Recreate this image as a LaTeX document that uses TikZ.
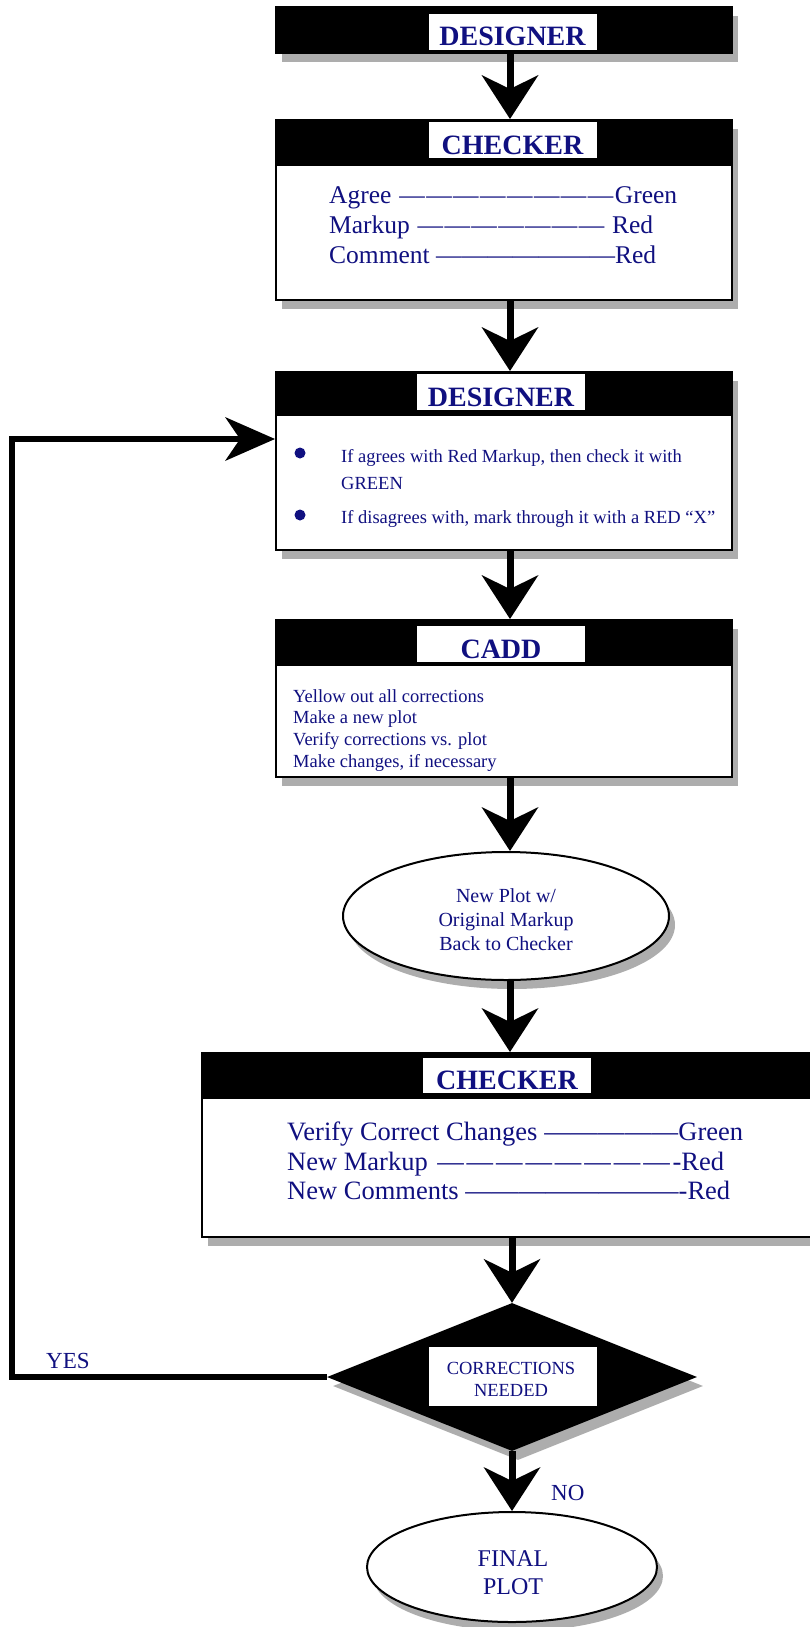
\documentclass[tikz,border=0pt]{standalone}
\usepackage{fontspec}
\setmainfont{Liberation Serif}
\usetikzlibrary{arrows.meta,shapes.geometric,shadows}
\definecolor{navy}{RGB}{16,16,128}
\newcommand\myfs[1]{\fontsize{#1}{#1}\selectfont}
\begin{document}
\begin{tikzpicture}[x=1pt,y=-1pt,
  shade/.style={drop shadow={shadow xshift=6pt, shadow yshift=-9pt, fill=black!32, opacity=1}},
  box/.style={rectangle, draw=black, line width=2pt, fill=white, inner sep=0pt, shade},
  lbl/.style={rectangle, fill=white, inner sep=0pt, minimum width=168pt, minimum height=36pt,
    text height=28pt, text depth=0pt, text=navy, font=\myfs{28}\bfseries},
  txt/.style={inner sep=0pt, text=navy},
  bigarrow/.style={line width=7pt, -{Stealth[length=44pt,width=57pt,inset=14pt,line width=0pt]}},
  loopline/.style={line width=5.5pt, -{Stealth[length=50pt,width=44pt,inset=15pt,line width=0pt]}},
]
\useasboundingbox (0,0) rectangle (810,1627);
\clip (0,0) rectangle (810,1627);
\coordinate (ax) at (510,0);

% Box 1: DESIGNER
\node[box, fill=black, minimum width=456pt, minimum height=46pt] (b1) at (504,30) {};
\node[lbl] (b1l) at (512.5,32) {DESIGNER};

% Box 2: CHECKER
\node[box, minimum width=456pt, minimum height=180pt] (b2) at (504,210) {};
\fill[black] (b2.north west) rectangle ([yshift=-47pt]b2.north east);
\node[lbl] (b2l) at (512.5,140) {CHECKER};
\node[txt, anchor=base west, font=\myfs{25.5}] (b2a) at (329,203) {\hbox to 348pt{Agree \xleaders\hbox{—}\hfill Green}};
\node[txt, anchor=base west, font=\myfs{25.5}] (b2b) at (329,233) {\hbox to 324pt{Markup \xleaders\hbox{—}\hfill\ Red}};
\node[txt, anchor=base west, font=\myfs{25.5}] (b2c) at (329,263) {\hbox to 327pt{Comment \xleaders\hbox{—}\hfill Red}};

% Box 3: DESIGNER
\node[box, minimum width=456pt, minimum height=178pt] (b3) at (504,461) {};
\fill[black] (b3.north west) rectangle ([yshift=-45pt]b3.north east);
\node[lbl] (b3l) at (501,392) {DESIGNER};
\node[circle, fill=navy, inner sep=0pt, minimum size=11pt] (bu1) at (300,453) {};
\node[circle, fill=navy, inner sep=0pt, minimum size=11pt] (bu2) at (300,515) {};
\node[txt, anchor=base west, font=\myfs{18.5}] (b3a) at (341,462) {If agrees with Red Markup, then check it with};
\node[txt, anchor=base west, font=\myfs{18.5}] (b3b) at (341,489) {GREEN};
\node[txt, anchor=base west, font=\myfs{18.5}] (b3c) at (341,523) {If disagrees with, mark through it with a RED “X”};

% Box 4: CADD
\node[box, minimum width=456pt, minimum height=157pt] (b4) at (504,698.5) {};
\fill[black] (b4.north west) rectangle ([yshift=-47pt]b4.north east);
\node[lbl] (b4l) at (501,644) {CADD};
\node[txt, anchor=base west, font=\myfs{18.5}] (b4a) at (293,702) {Yellow out all corrections};
\node[txt, anchor=base west, font=\myfs{18.5}] (b4b) at (293,723) {Make a new plot};
\node[txt, anchor=base west, font=\myfs{18.5}] (b4c) at (293,745) {Verify corrections vs. plot};
\node[txt, anchor=base west, font=\myfs{18.5}] (b4d) at (293,767) {Make changes, if necessary};

% Ellipse: new plot
\node[ellipse, draw=black, line width=2pt, fill=white, inner sep=0pt, minimum width=326pt, minimum height=128pt, shade] (e1) at (506,916) {};
\node[txt, anchor=base, font=\myfs{20}] (e1a) at (506,902) {New Plot w/};
\node[txt, anchor=base, font=\myfs{20}] (e1b) at (506,926) {Original Markup};
\node[txt, anchor=base, font=\myfs{20}] (e1c) at (506,950) {Back to Checker};

% Box 5: CHECKER
\node[box, minimum width=628pt, minimum height=184pt] (b5) at (516,1145) {};
\fill[black] (b5.north west) rectangle ([yshift=-47pt]b5.north east);
\node[lbl, minimum height=35pt] (b5l) at (507,1075.5) {CHECKER};
\node[txt, anchor=base west, font=\myfs{26.5}] (b5a) at (287,1140) {\hbox to 456pt{Verify Correct Changes \xleaders\hbox{—}\hfill Green}};
\node[txt, anchor=base west, font=\myfs{26.5}] (b5b) at (287,1170) {\hbox to 437pt{New Markup \xleaders\hbox{—}\hfill -Red}};
\node[txt, anchor=base west, font=\myfs{26.5}] (b5c) at (287,1199) {\hbox to 443pt{New Comments \xleaders\hbox{—}\hfill -Red}};

% Decision diamond
\node[diamond, fill=black, inner sep=0pt, minimum width=370pt, minimum height=148pt, shade] (dia) at (512,1377) {};
\node[rectangle, fill=white, inner sep=0pt, minimum width=168pt, minimum height=59pt] (dial) at (513,1376) {};
\node[txt, anchor=base, font=\myfs{18.5}] (dila) at (511,1374) {CORRECTIONS};
\node[txt, anchor=base, font=\myfs{18.5}] (dilb) at (511,1396) {NEEDED};

% Final ellipse
\node[ellipse, draw=black, line width=2pt, fill=white, inner sep=0pt, minimum width=290pt, minimum height=110pt, shade] (fin) at (512,1567) {};
\node[txt, anchor=base, font=\myfs{24}] (fina) at (513,1566) {FINAL};
\node[txt, anchor=base, font=\myfs{24}] (finb) at (513,1594) {PLOT};

% Labels
\node[txt, anchor=base west, font=\myfs{23}] (yes) at (46,1368) {YES};
\node[txt, anchor=base west, font=\myfs{23}] (no) at (551,1500) {NO};

% Arrows
\draw[bigarrow] (b1.south -| ax) -- (b2.north -| ax);
\draw[bigarrow] (b2.south -| ax) -- (b3.north -| ax);
\draw[bigarrow] (b3.south -| ax) -- (b4.north -| ax);
\draw[bigarrow] (b4.south -| ax) -- (e1.north -| ax);
\draw[bigarrow] (e1.south -| ax) -- (b5.north -| ax);
\draw[bigarrow] (b5.south -| dia.north) -- (dia.north);
\draw[bigarrow] (dia.south) -- (fin.north -| dia.south);

% Feedback loop
\coordinate (lb) at (12,1377);
\coordinate (lt) at (12,439);
\draw[loopline] (dia.west) -- (lb) -- (lt) -- (lt -| b3.west);
\end{tikzpicture}
\end{document}
